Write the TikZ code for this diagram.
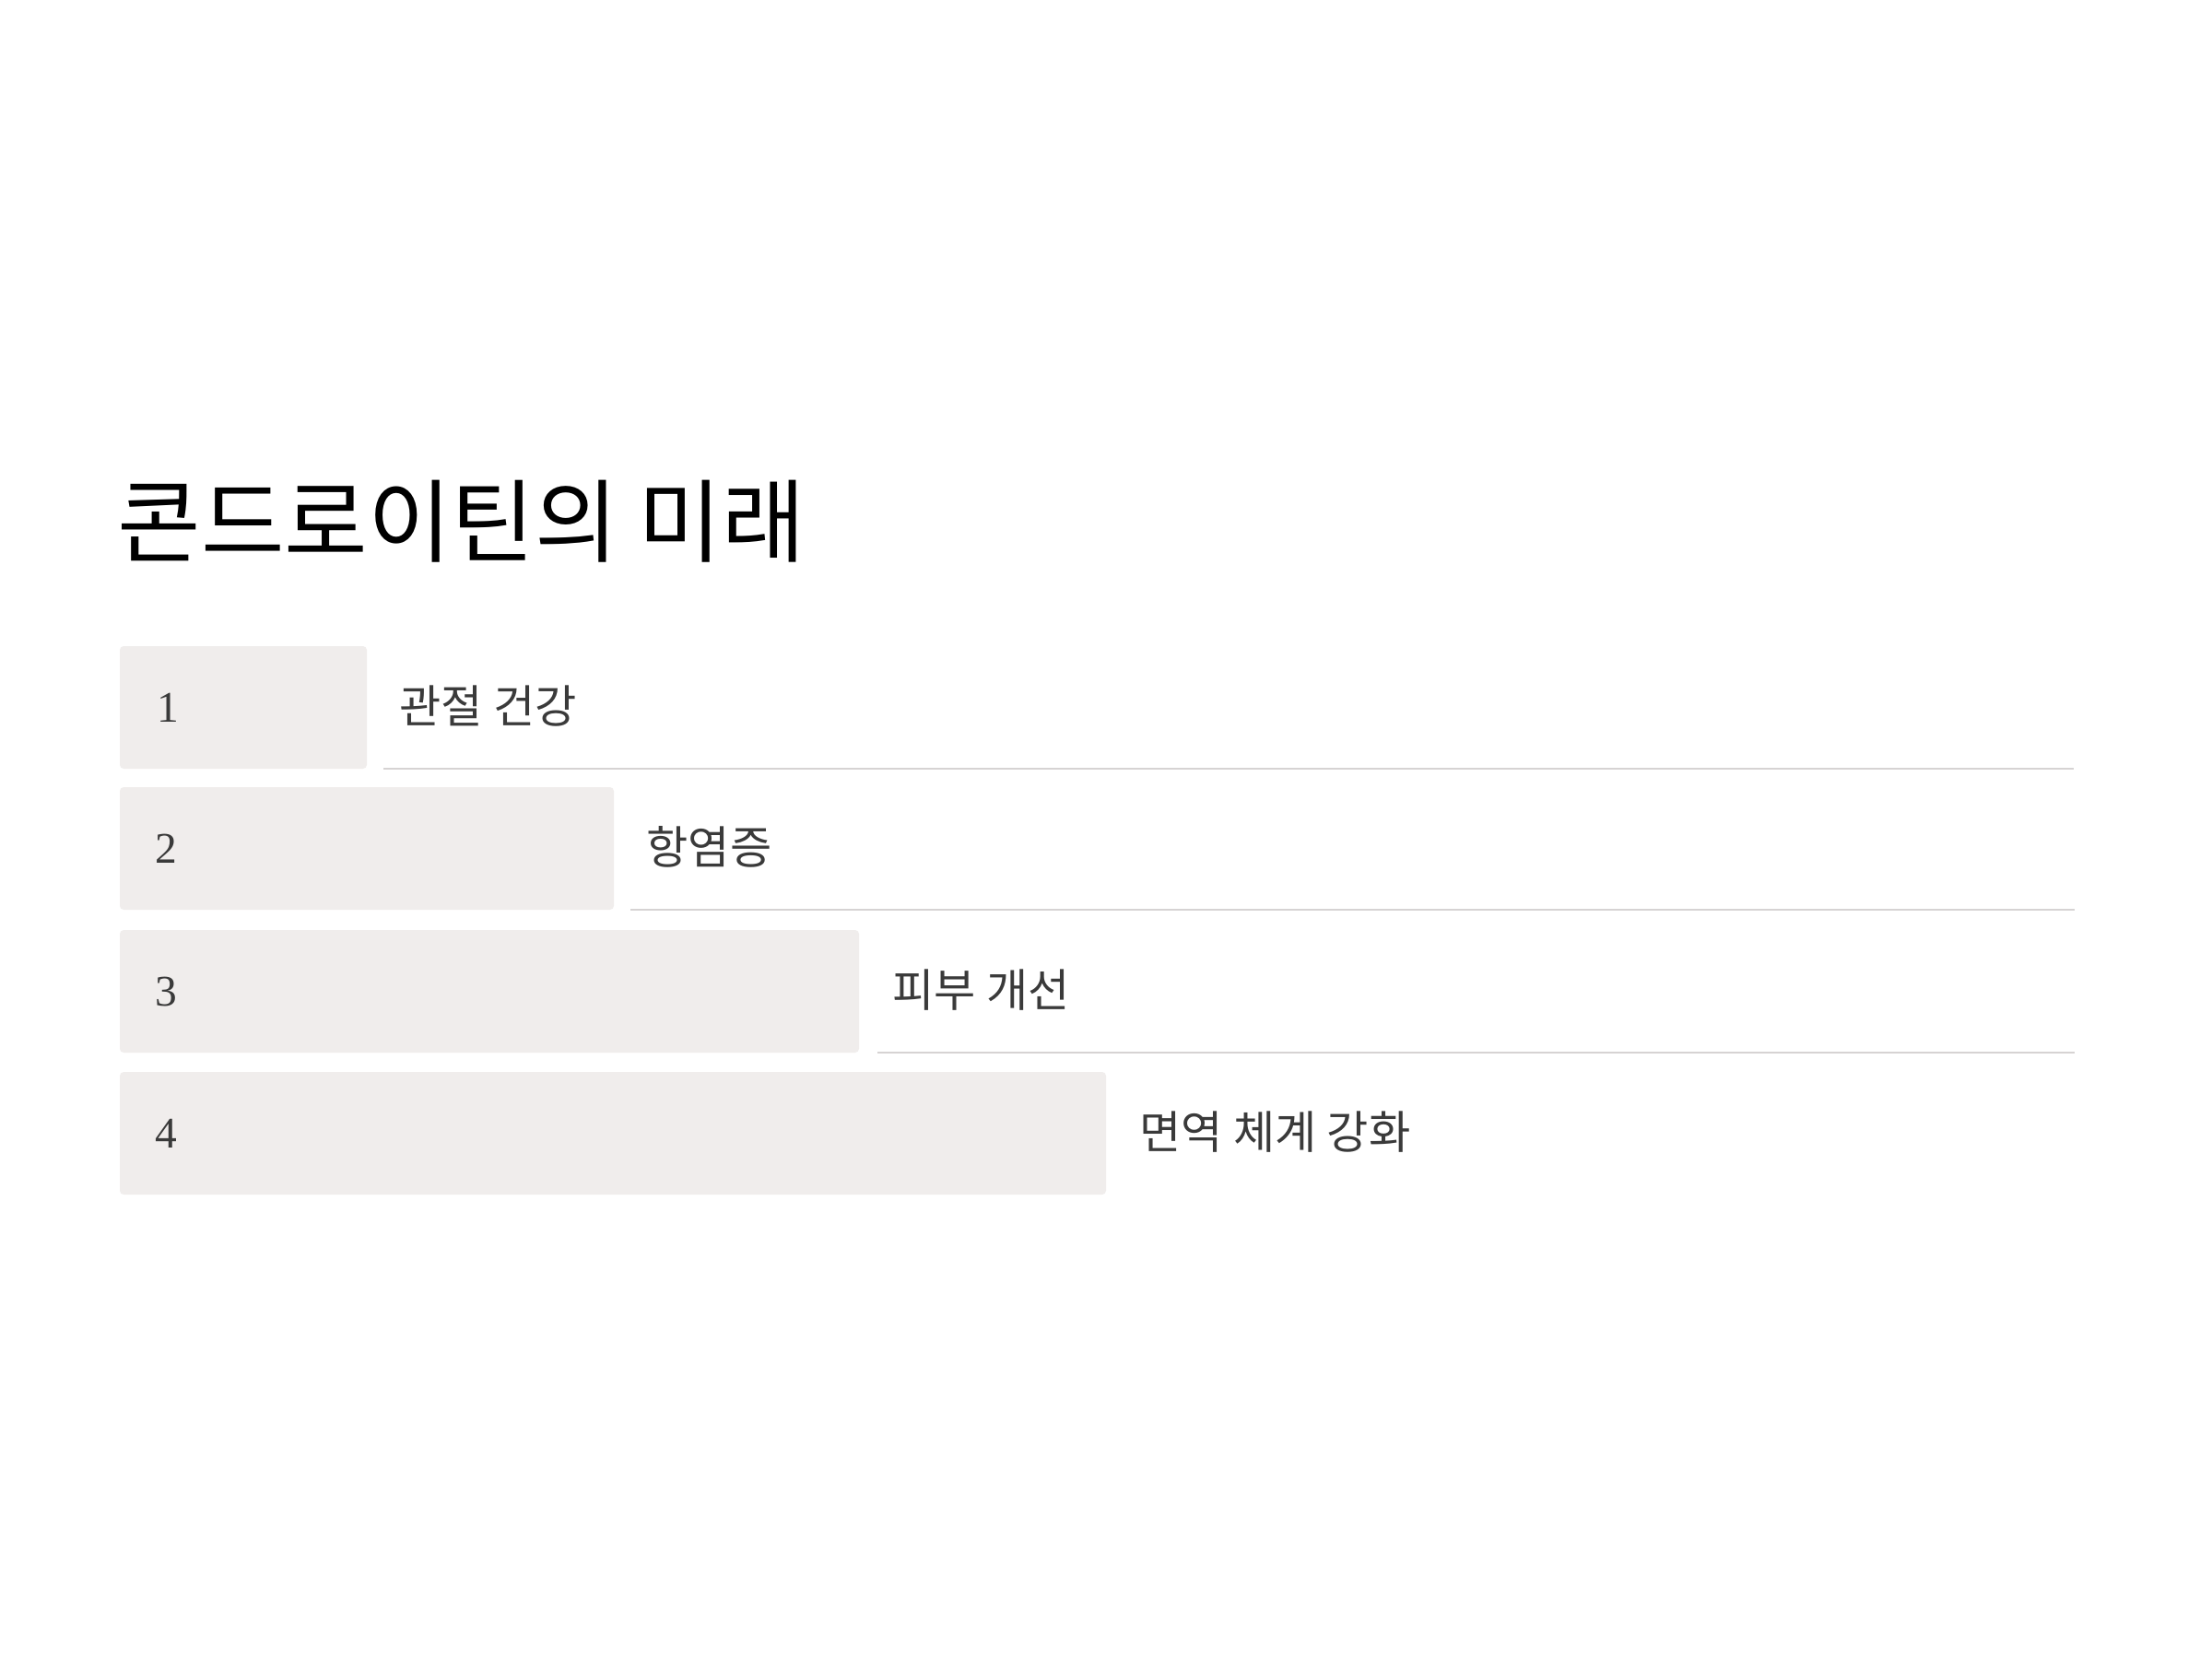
\documentclass[tikz,border=0pt]{standalone}
\usepackage{fontspec}
\newfontfamily\cjk{Noto Sans CJK KR}
\newfontfamily\numfont{Liberation Serif}
\definecolor{boxfill}{HTML}{F0EDEC}
\definecolor{rulecol}{HTML}{D6D3D3}
\definecolor{labcol}{HTML}{3A3A3A}
\begin{document}
\begin{tikzpicture}[x=1cm,y=1cm,
  bar/.style={fill=boxfill, draw=none, rounded corners=1.2pt},
  num/.style={anchor=west, inner sep=0pt, font=\numfont\fontsize{13.5pt}{16pt}\selectfont, text=labcol},
  lab/.style={anchor=west, inner sep=0pt, font=\cjk\fontsize{14pt}{17pt}\selectfont, text=labcol},
  sep/.style={draw=rulecol, line width=0.6pt}]
\useasboundingbox[fill=white] (0,0) rectangle (24,-18);
\node[anchor=west, inner sep=0pt, font=\cjk\fontsize{28pt}{33pt}\selectfont] (title) at (1.27,-5.66) {콘드로이틴의 미래};
% bars
\path[bar] (1.30,-7.01) rectangle (3.98,-8.34);
\path[bar] (1.30,-8.54) rectangle (6.66,-9.87);
\path[bar] (1.30,-10.09) rectangle (9.32,-11.42);
\path[bar] (1.30,-11.63) rectangle (12.00,-12.96);
\node[num] (n1) at (1.70,-7.675) {1};
\node[num] (n2) at (1.68,-9.205) {2};
\node[num] (n3) at (1.68,-10.755) {3};
\node[num] (n4) at (1.68,-12.295) {4};
\node[lab] (l1) at (4.33,-7.66) {관절 건강};
\node[lab] (l2) at (7.01,-9.19) {항염증};
\node[lab] (l3) at (9.68,-10.74) {피부 개선};
\node[lab] (l4) at (12.36,-12.28) {면역 체계 강화};
% separators
\coordinate (s1a) at (4.16,-8.34); \coordinate (s1b) at (22.50,-8.34);
\coordinate (s2a) at (6.84,-9.87); \coordinate (s2b) at (22.51,-9.87);
\coordinate (s3a) at (9.52,-11.42); \coordinate (s3b) at (22.51,-11.42);
\draw[sep] (s1a) -- (s1b);
\draw[sep] (s2a) -- (s2b);
\draw[sep] (s3a) -- (s3b);
\end{tikzpicture}
\end{document}
